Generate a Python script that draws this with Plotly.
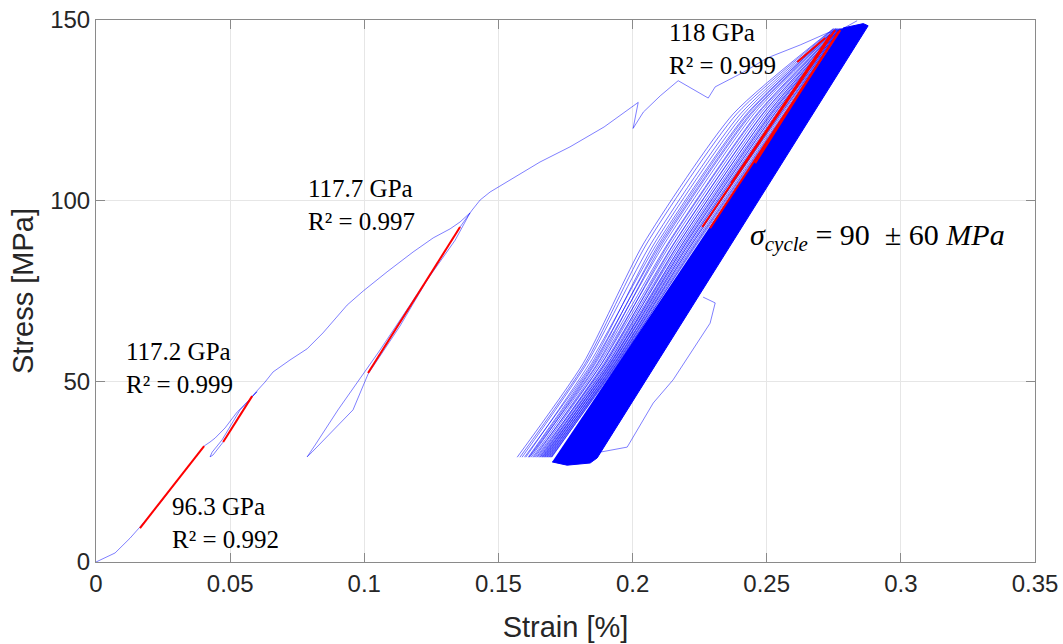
import plotly.graph_objects as go

# ---------------- data ----------------
# first loading path with two partial unload/reload loops, up to the cyclic peak
mono_strain = [0.0, 0.0015, 0.0045, 0.0071, 0.0097, 0.0127, 0.0164, 0.0239, 0.0313, 0.0403,
               0.0425, 0.0444, 0.0481, 0.0526, 0.0556, 0.0585, 0.0600,
               0.0537, 0.0470, 0.0433, 0.0425, 0.0436,
               0.0474, 0.0529, 0.0582, 0.0600,
               0.0630, 0.0660, 0.0723, 0.0787, 0.0846, 0.0936, 0.0996, 0.1085, 0.1182, 0.1257,
               0.1320, 0.1357, 0.1394,
               0.1339, 0.1208, 0.1059, 0.0902, 0.0817, 0.0787, 0.0805,
               0.0958, 0.1014, 0.1133, 0.1245, 0.1357, 0.1402, 0.1432, 0.1469, 0.1544, 0.1655,
               0.1767, 0.1894, 0.2021, 0.2002, 0.2040, 0.2103, 0.2170, 0.2282, 0.2308, 0.2412,
               0.2502, 0.2625, 0.2726, 0.2774, 0.2837]
mono_stress = [0.0, 0.55, 1.7, 2.5, 4.4, 6.6, 9.7, 16.3, 23.5, 32.1,
               33.2, 34.3, 37.1, 41.5, 43.7, 45.9, 47.1,
               42.1, 33.8, 30.4, 29.1, 29.6,
               33.2, 39.9, 45.9, 47.3,
               49.8, 52.6, 55.9, 59.0, 63.4, 71.1, 75.0, 80.3, 85.8, 89.7,
               92.2, 94.1, 96.6,
               89.1, 75.3, 58.7, 42.1, 32.4, 29.1, 30.4,
               42.1, 52.0, 65.3, 79.4, 92.7, 97.4, 100.2, 102.4, 105.7, 110.7,
               114.9, 120.4, 127.2, 120.0, 124.5, 129.0, 133.2, 128.4, 131.5, 135.5,
               139.5, 143.1, 146.4, 147.2, 149.8]

# individual (early) fatigue cycles, strain read at five stress levels
cyc_level_stress = [29.0, 55.0, 88.0, 124.0, 147.6]
cyc_strain_valley = [0.1570, 0.1588, 0.1597, 0.1611, 0.1616, 0.1628, 0.1632, 0.1642, 0.1645,
                     0.1654, 0.1656, 0.1663, 0.1665, 0.1671, 0.1673, 0.1679, 0.1681, 0.1687,
                     0.1689, 0.1695, 0.1697,
                     0.1602, 0.1622, 0.1637, 0.1650, 0.1660, 0.1668, 0.1676, 0.1684, 0.1692,
                     0.1699, 0.1580, 0.1614]
cyc_strain_55 = [0.1816, 0.1830, 0.1848, 0.1853, 0.1869, 0.1872, 0.1885, 0.1886, 0.1898,
                 0.1898, 0.1909, 0.1909, 0.1918, 0.1917, 0.1926, 0.1925, 0.1934, 0.1933,
                 0.1941, 0.1941, 0.1947,
                 0.1840, 0.1862, 0.1878, 0.1893, 0.1903, 0.1914, 0.1922, 0.1930, 0.1937,
                 0.1944, 0.1824, 0.1858]
cyc_strain_88 = [0.2040, 0.2068, 0.2080, 0.2104, 0.2110, 0.2130, 0.2134, 0.2152, 0.2154,
                 0.2170, 0.2171, 0.2186, 0.2185, 0.2198, 0.2197, 0.2210, 0.2209, 0.2222,
                 0.2221, 0.2233, 0.2236,
                 0.2090, 0.2118, 0.2142, 0.2162, 0.2178, 0.2192, 0.2204, 0.2216, 0.2228,
                 0.2240, 0.2052, 0.2098]
cyc_strain_124 = [0.2375, 0.2402, 0.2414, 0.2438, 0.2443, 0.2463, 0.2467, 0.2484, 0.2486,
                  0.2502, 0.2503, 0.2517, 0.2515, 0.2529, 0.2528, 0.2541, 0.2540, 0.2553,
                  0.2551, 0.2563, 0.2566,
                  0.2425, 0.2452, 0.2475, 0.2494, 0.2510, 0.2522, 0.2535, 0.2547, 0.2558,
                  0.2569, 0.2388, 0.2430]
cyc_strain_peak = [0.2748, 0.2753, 0.2757, 0.2761, 0.2764, 0.2766, 0.2769, 0.2771, 0.2773,
                   0.2774, 0.2776, 0.2778, 0.2779, 0.2780, 0.2782, 0.2783, 0.2784, 0.2785,
                   0.2787, 0.2788, 0.2789,
                   0.2759, 0.2763, 0.2768, 0.2772, 0.2775, 0.2778, 0.2781, 0.2784, 0.2786,
                   0.2789, 0.2750, 0.2758]

# envelope of the densely overlapping cycles (hundreds of loops)
band_strain = [0.1700, 0.1756, 0.1842, 0.1868, 0.2878, 0.2860, 0.2785]
band_stress = [27.7, 26.8, 27.4, 28.8, 148.4, 149.0, 147.8]

# stray excursion to the right of the band
exc_strain = [0.1868, 0.1879, 0.1980, 0.2077, 0.2151, 0.2289, 0.2308, 0.2263]
exc_stress = [29.0, 30.4, 31.8, 44.0, 50.4, 66.1, 71.7, 73.3]

# linear fits (modulus lines)
fit_x0 = [0.0164, 0.0474, 0.1014, 0.2260, 0.2289, 0.2368, 0.2457, 0.2614]
fit_x1 = [0.0403, 0.0582, 0.1357, 0.2755, 0.2774, 0.2737, 0.2767, 0.2718]
fit_y0 = [9.4, 33.2, 52.3, 92.7, 92.4, 104.9, 110.4, 138.4]
fit_y1 = [32.1, 45.9, 92.7, 147.2, 147.2, 145.9, 146.7, 145.0]

# annotations
ann_text = ["117.2 GPa<br>R² = 0.999", "96.3 GPa<br>R² = 0.992",
            "117.7 GPa<br>R² = 0.997", "118 GPa<br>R² = 0.999"]
ann_x = [0.0104, 0.0277, 0.0781, 0.2127]
ann_y = [53.8, 10.9, 98.8, 142.1]

x_ticks = [0, 0.05, 0.1, 0.15, 0.2, 0.25, 0.3, 0.35]
x_ticklabels = ["0", "0.05", "0.1", "0.15", "0.2", "0.25", "0.3", "0.35"]
y_ticks = [0, 50, 100, 150]
y_ticklabels = ["0", "50", "100", "150"]

# ---------------- figure ----------------
LIGHT_BLUE = "rgba(0,0,255,0.5)"
fig = go.Figure()

cx, cy = [], []
for i in range(len(cyc_strain_valley)):
    cx += [cyc_strain_valley[i], cyc_strain_55[i], cyc_strain_88[i],
           cyc_strain_124[i], cyc_strain_peak[i], None]
    cy += cyc_level_stress + [None]

fig.add_trace(go.Scatter(x=cx, y=cy, mode="lines",
                         line=dict(color="rgba(0,0,255,0.55)", width=1, shape="spline",
                                   smoothing=0.6),
                         hoverinfo="skip", showlegend=False))
fig.add_trace(go.Scatter(x=band_strain, y=band_stress, mode="lines", fill="toself",
                         fillcolor="#0000ff", line=dict(color="#0000ff", width=1),
                         hoverinfo="skip", showlegend=False))
fig.add_trace(go.Scatter(x=exc_strain, y=exc_stress, mode="lines",
                         line=dict(color=LIGHT_BLUE, width=1), showlegend=False))
fig.add_trace(go.Scatter(x=mono_strain, y=mono_stress, mode="lines",
                         line=dict(color=LIGHT_BLUE, width=1), showlegend=False))

fx, fy = [], []
for i in range(len(fit_x0)):
    fx += [fit_x0[i], fit_x1[i], None]
    fy += [fit_y0[i], fit_y1[i], None]
fig.add_trace(go.Scatter(x=fx, y=fy, mode="lines", line=dict(color="#ff0000", width=2),
                         showlegend=False))

for t, x, y in zip(ann_text, ann_x, ann_y):
    fig.add_annotation(x=x, y=y, xref="x", yref="y", text=t, showarrow=False,
                       xanchor="left", yanchor="middle", align="left",
                       font=dict(family="Liberation Serif", size=25, color="#000000"))

fig.add_annotation(x=0.2431, y=90, xref="x", yref="y",
                   text="<i>σ</i><sub><i>cycle</i></sub> = 90  ± 60 <i>MPa</i>",
                   showarrow=False, xanchor="left", yanchor="middle",
                   font=dict(family="Liberation Serif", size=30, color="#000000"))

axis_common = dict(showgrid=True, gridcolor="#e6e6e6", gridwidth=1, zeroline=False,
                   showline=True, linecolor="#8a8a8a", linewidth=1, mirror="ticks",
                   ticks="inside", ticklen=9, tickcolor="#8a8a8a", automargin=False,
                   ticklabeloverflow="allow",
                   tickfont=dict(family="Liberation Sans", size=24, color="#262626"))

fig.update_xaxes(range=[0, 0.35], tickvals=x_ticks, ticktext=x_ticklabels,
                 title=dict(text="Strain [%]", standoff=20,
                            font=dict(family="Liberation Sans", size=29, color="#262626")),
                 **axis_common)
fig.update_yaxes(range=[0, 150], tickvals=y_ticks, ticktext=y_ticklabels,
                 title=dict(text="Stress [MPa]", standoff=8,
                            font=dict(family="Liberation Sans", size=29, color="#262626")),
                 **axis_common)

fig.update_layout(width=1063, height=644, margin=dict(l=96, r=28, t=20, b=82),
                  plot_bgcolor="white", paper_bgcolor="white", showlegend=False)

# remove the default page margin so the figure fills the window exactly
fig.write_html("out.html", config={"displayModeBar": False},
               post_script="document.body.style.margin='0';document.body.style.overflow='hidden';")
